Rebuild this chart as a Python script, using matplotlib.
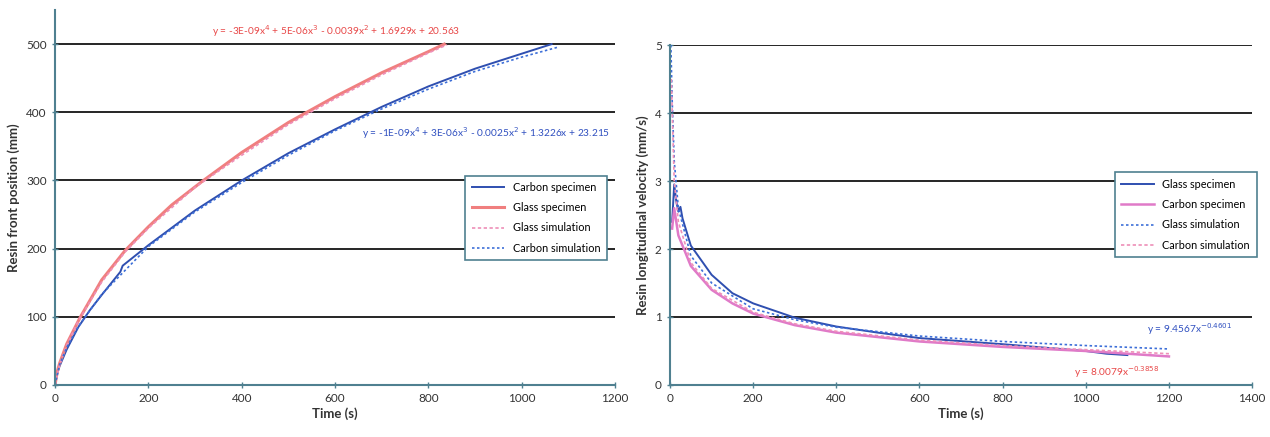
import numpy as np
import matplotlib.pyplot as plt

plt.rcParams['font.family'] = ['Lato', 'DejaVu Sans']

# Left panel: resin front position (mm) vs time (s)
carbon_spec_t = [0, 5, 10, 25, 50, 75, 100, 140, 145, 200, 300, 400, 500, 600, 700, 800, 900, 1000, 1064]
carbon_spec_x = [0, 18, 28, 52, 85, 110, 132, 166, 175, 205, 256, 300, 340, 375, 408, 438, 464, 486, 500]
glass_spec_t = [0, 5, 10, 25, 53, 100, 150, 200, 250, 314, 400, 500, 600, 700, 800, 834]
glass_spec_x = [0, 20, 32, 60, 98, 154, 197, 232, 264, 298, 341, 385, 423, 458, 489, 500]
glass_sim_t = [0, 10, 25, 50, 100, 150, 200, 300, 400, 500, 600, 700, 800, 840]
glass_sim_x = [0, 30, 58, 94, 151, 195, 230, 290, 337, 382, 420, 455, 487, 499]
carbon_sim_t = [0, 10, 25, 50, 100, 200, 300, 400, 500, 600, 700, 800, 900, 1000, 1080]
carbon_sim_x = [0, 30, 55, 86, 133, 203, 254, 297, 337, 373, 405, 434, 460, 481, 496]

# Right panel: resin longitudinal velocity (mm/s) vs time (s)
glass_v_t = [5, 10, 15, 20, 25, 30, 50, 100, 150, 200, 300, 400, 500, 600, 800, 1000, 1050, 1100]
glass_v = [2.4, 2.95, 2.7, 2.55, 2.62, 2.45, 2.05, 1.62, 1.35, 1.2, 0.99, 0.86, 0.77, 0.69, 0.6, 0.5, 0.46, 0.44]
carbon_v_t = [5, 10, 20, 50, 100, 150, 200, 300, 400, 600, 800, 1000, 1200]
carbon_v = [2.3, 2.6, 2.2, 1.75, 1.4, 1.2, 1.05, 0.88, 0.77, 0.64, 0.56, 0.5, 0.42]
glass_vsim_t = [2, 5, 10, 20, 50, 100, 200, 300, 400, 600, 800, 1000, 1200]
glass_vsim = [5.0, 4.2, 3.3, 2.6, 1.9, 1.5, 1.12, 0.96, 0.85, 0.72, 0.64, 0.58, 0.53]
carbon_vsim_t = [3, 10, 20, 50, 100, 200, 300, 400, 600, 800, 1000, 1200]
carbon_vsim = [4.5, 3.0, 2.4, 1.8, 1.42, 1.07, 0.9, 0.79, 0.66, 0.58, 0.52, 0.46]

axis_col = '#4f8090'
blue = '#2f4fb0'
blue_dot = '#3d6fd8'
red = '#f07f7f'
pink = '#e07ac8'
pink_dash = '#ee8fb8'

fig = plt.figure(figsize=(12.7, 4.37), dpi=100)
ax1 = fig.add_axes([0.0433, 0.119, 0.441, 0.858])
ax2 = fig.add_axes([0.5276, 0.119, 0.4583, 0.778])


def style(ax):
    for s in ['top', 'right']:
        ax.spines[s].set_visible(False)
    for s in ['left', 'bottom']:
        ax.spines[s].set_color(axis_col)
        ax.spines[s].set_linewidth(1.5)
    ax.tick_params(direction='inout', length=5, width=1, color=axis_col,
                   labelsize=8.5, labelcolor='#333333')
    ax.yaxis.grid(True, color='black', linewidth=1.2)
    ax.set_axisbelow(True)


ax1.plot(carbon_spec_t, carbon_spec_x, color=blue, lw=1.4, label='Carbon specimen')
ax1.plot(glass_spec_t, glass_spec_x, color=red, lw=2.2, label='Glass specimen')
ax1.plot(glass_sim_t, glass_sim_x, color=pink_dash, lw=1.2, ls=(0, (2, 1.5)), label='Glass simulation')
ax1.plot(carbon_sim_t, carbon_sim_x, color=blue_dot, lw=1.2, ls=(0, (1.5, 1.5)), label='Carbon simulation')
ax1.set_xlim(0, 1200)
ax1.set_ylim(0, 550)
ax1.set_xticks(range(0, 1201, 200))
ax1.set_yticks(range(0, 501, 100))
style(ax1)
ax1.set_xlabel('Time (s)', fontsize=9.5, fontweight='bold', color='#333333', labelpad=2)
ax1.set_ylabel('Resin front position (mm)', fontsize=9.5, fontweight='bold', color='#333333')
ax1.text(603, 507, 'y = -3E-09x$^4$ + 5E-06x$^3$ - 0.0039x$^2$ + 1.6929x + 20.563',
         color='#e84848', fontsize=7.3, ha='center', va='bottom')
ax1.text(1190, 370, 'y = -1E-09x$^4$ + 3E-06x$^3$ - 0.0025x$^2$ + 1.3226x + 23.215',
         color='#3050c0', fontsize=7.3, ha='right', va='center')
leg1 = ax1.legend(loc='upper right', bbox_to_anchor=(0.995, 0.573), fontsize=7.8,
                  frameon=True, fancybox=False, borderpad=0.6, labelspacing=0.85,
                  handlelength=3)
leg1.get_frame().set_edgecolor(axis_col)
leg1.get_frame().set_linewidth(1.2)
leg1.get_frame().set_alpha(1)

ax2.plot(glass_v_t, glass_v, color=blue, lw=1.4, label='Glass specimen')
ax2.plot(carbon_v_t, carbon_v, color=pink, lw=1.8, label='Carbon specimen')
ax2.plot(glass_vsim_t, glass_vsim, color=blue_dot, lw=1.2, ls=(0, (1.5, 1.5)), label='Glass simulation')
ax2.plot(carbon_vsim_t, carbon_vsim, color=pink_dash, lw=1.2, ls=(0, (2, 1.5)), label='Carbon simulation')
ax2.set_xlim(0, 1400)
ax2.set_ylim(0, 5)
ax2.set_xticks(range(0, 1401, 200))
ax2.set_yticks(range(0, 6))
style(ax2)
ax2.set_xlabel('Time (s)', fontsize=9.5, fontweight='bold', color='#333333', labelpad=2)
ax2.set_ylabel('Resin longitudinal velocity (mm/s)', fontsize=9.5, fontweight='bold', color='#333333')
ax2.text(1250, 0.82, 'y = 9.4567x$^{-0.4601}$', color='#3050c0', fontsize=7.3, ha='center', va='center')
ax2.text(1075, 0.19, 'y = 8.0079x$^{-0.3858}$', color='#e84848', fontsize=7.3, ha='center', va='center')
leg2 = ax2.legend(loc='upper right', bbox_to_anchor=(1.017, 0.641), fontsize=7.8,
                  frameon=True, fancybox=False, borderpad=0.6, labelspacing=0.85,
                  handlelength=3)
leg2.get_frame().set_edgecolor(axis_col)
leg2.get_frame().set_linewidth(1.2)
leg2.get_frame().set_alpha(1)

fig.savefig('out.png', dpi=100)
